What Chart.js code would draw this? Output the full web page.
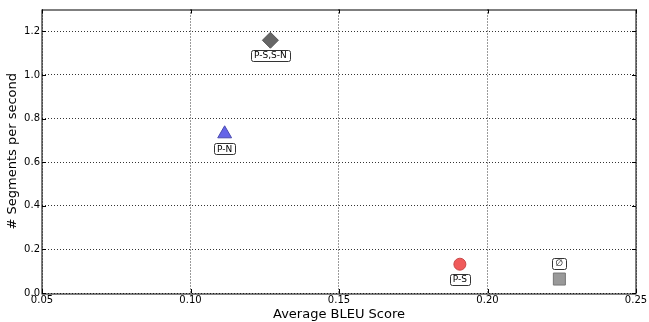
<!DOCTYPE html>
<html>
<head>
<meta charset="utf-8">
<script src="https://cdn.jsdelivr.net/npm/chart.js@4"></script>
<style>
  html, body { margin: 0; padding: 0; background: #fff; }
  #wrap { width: 649px; height: 322px; }
</style>
</head>
<body>
<div id="wrap"><canvas id="bleuChart" width="649" height="322"></canvas></div>
<script>
// systems
const labels = ["P-S,S-N", "P-N", "P-S", "\u2205"];
const bleu = [0.1269, 0.1115, 0.1907, 0.2242];
const segsPerSec = [1.159, 0.73, 0.132, 0.064];
const markers = ["rectRot", "triangle", "circle", "rect"];
const fills = ["#666666", "#6565e8", "#f05a5a", "#999999"];
const borders = ["#555555", "#4a4ab0", "#c84848", "#777777"];
const sizes = [8, 8, 6, 8.5];
const labelBelow = [true, true, true, false];

const xTicks = [0.05, 0.10, 0.15, 0.20, 0.25];
const yTicks = [0.0, 0.2, 0.4, 0.6, 0.8, 1.0, 1.2];

const font = "DejaVu Sans";

// frame, inward ticks and the boxed text labels
const decorations = {
  id: "decorations",
  afterDatasetsDraw(chart) {
    const { ctx, chartArea: a, scales } = chart;
    ctx.save();
    ctx.strokeStyle = "#000";
    ctx.lineWidth = 1;
    ctx.beginPath();
    xTicks.forEach(v => {
      const px = Math.round(scales.x.getPixelForValue(v)) + 0.5;
      ctx.moveTo(px, a.bottom); ctx.lineTo(px, a.bottom - 4);
      ctx.moveTo(px, a.top); ctx.lineTo(px, a.top + 4);
    });
    yTicks.forEach(v => {
      const py = Math.round(scales.y.getPixelForValue(v)) + 0.5;
      ctx.moveTo(a.left, py); ctx.lineTo(a.left + 4, py);
      ctx.moveTo(a.right, py); ctx.lineTo(a.right - 4, py);
    });
    ctx.stroke();
    ctx.strokeRect(Math.round(a.left), Math.round(a.top),
      Math.round(a.right - a.left), Math.round(a.bottom - a.top));

    ctx.font = "9px '" + font + "'";
    ctx.textAlign = "center";
    ctx.textBaseline = "middle";
    labels.forEach((t, i) => {
      const px = scales.x.getPixelForValue(bleu[i]);
      const py = scales.y.getPixelForValue(segsPerSec[i]) + (labelBelow[i] ? 15 : -16);
      const w = ctx.measureText(t).width + 6;
      const h = 11;
      ctx.beginPath();
      ctx.roundRect(Math.round(px - w / 2) + 0.5, Math.round(py - h / 2) + 0.5, Math.round(w), h, 2);
      ctx.fillStyle = "#fff";
      ctx.fill();
      ctx.strokeStyle = "#333";
      ctx.stroke();
      ctx.fillStyle = "#000";
      ctx.fillText(t, px, py + 0.5);
    });
    ctx.restore();
  }
};

new Chart(document.getElementById("bleuChart"), {
  type: "scatter",
  data: {
    datasets: [{
      data: bleu.map((x, i) => ({ x: x, y: segsPerSec[i] })),
      pointStyle: markers,
      backgroundColor: fills,
      borderColor: borders,
      borderWidth: 1,
      pointRadius: sizes,
      pointHoverRadius: sizes
    }]
  },
  options: {
    responsive: false,
    animation: false,
    events: [],
    layout: { padding: { left: 0, right: 13, top: 8, bottom: 0 } },
    plugins: { legend: { display: false }, tooltip: { enabled: false } },
    scales: {
      x: {
        type: "linear",
        min: 0.05, max: 0.25,
        afterBuildTicks: s => { s.ticks = xTicks.map(v => ({ value: v })); },
        afterFit: s => { s.height = 29; s.paddingLeft = 0; s.paddingRight = 0; },
        grid: { color: "#000", lineWidth: 0.8, drawTicks: false },
        border: { display: false, dash: [1, 2] },
        ticks: {
          color: "#000", padding: 1,
          font: { family: font, size: 10 },
          callback: v => v.toFixed(2)
        },
        title: {
          display: true, text: "Average BLEU Score", color: "#000",
          font: { family: font, size: 13 }, padding: { top: 0, bottom: 0 }
        }
      },
      y: {
        type: "linear",
        min: 0, max: 1.3,
        afterBuildTicks: s => { s.ticks = yTicks.map(v => ({ value: v })); },
        afterFit: s => { s.width = 42; s.paddingTop = 0; s.paddingBottom = 0; },
        grid: { color: "#000", lineWidth: 0.8, drawTicks: false },
        border: { display: false, dash: [1, 2] },
        ticks: {
          color: "#000", padding: 2,
          font: { family: font, size: 10 },
          callback: v => v.toFixed(1)
        },
        title: {
          display: true, text: "# Segments per second", color: "#000",
          font: { family: font, size: 13 }, padding: { top: 5, bottom: 0 }
        }
      }
    }
  },
  plugins: [decorations]
});
</script>
</body>
</html>
